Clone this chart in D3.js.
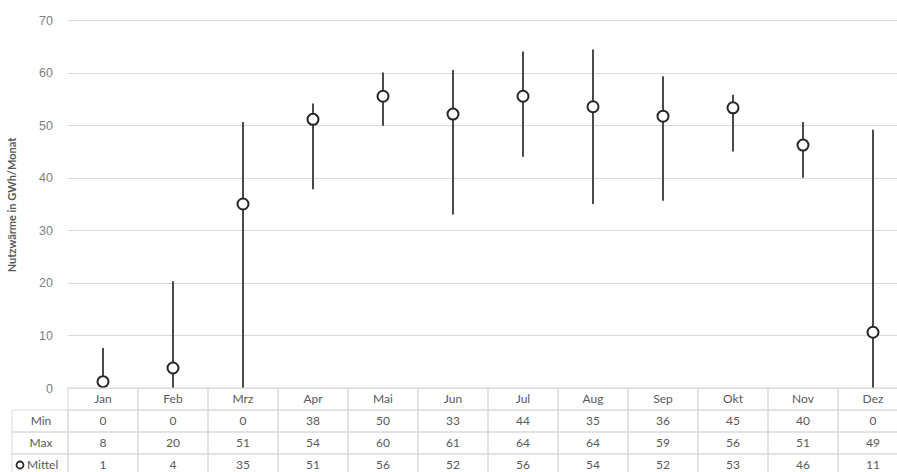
<!DOCTYPE html>
<html lang="de">
<head>
    <meta charset="UTF-8">
    <title>Nutzwärme pro Monat</title>
    <script src="https://d3js.org/d3.v7.min.js"></script>
    <style>
        body { margin: 0; background: white; }
        svg { display: block; font-family: Lato, "Open Sans", sans-serif; }
        .grid line { stroke: #d9d9d9; stroke-width: 1; }
        .grid .domain { display: none; }
        .grid text { fill: #7f7f7f; font-size: 12.5px; }
        .cell { fill: none; stroke: #d9d9d9; stroke-width: 1; }
        .tbl { fill: #595959; font-size: 12px; }
    </style>
</head>
<body>
<svg width="897" height="472"></svg>
<script>
    // data
    var months = ["Jan", "Feb", "Mrz", "Apr", "Mai", "Jun", "Jul", "Aug", "Sep", "Okt", "Nov", "Dez"];
    var minVals = [0, 0, 0, 37.8, 49.9, 33, 44, 35, 35.6, 45, 40, 0];
    var maxVals = [7.6, 20.3, 50.6, 54.1, 60, 60.5, 64, 64.4, 59.3, 55.8, 50.6, 49.1];
    var meanVals = [1.2, 3.8, 35, 51.1, 55.5, 52.1, 55.5, 53.5, 51.7, 53.3, 46.2, 10.6];
    var yTicks = [0, 10, 20, 30, 40, 50, 60, 70];
    var rowLabels = ["Min", "Max", "Mittel"];

    var svg = d3.select("svg");
    var plotLeft = 68, plotTop = 20, plotBottom = 388, colW = 70, rowH = 22;

    var x = d3.scaleBand().domain(months).range([plotLeft, plotLeft + colW * months.length]);
    var y = d3.scaleLinear().domain([0, 70]).range([plotBottom, plotTop]);

    // gridlines + y labels
    svg.append("g")
        .attr("class", "grid")
        .attr("transform", "translate(" + plotLeft + ",0)")
        .call(d3.axisLeft(y).tickValues(yTicks).tickSize(-(897 - plotLeft)).tickPadding(15))
        .selectAll(".tick line").attr("shape-rendering", "crispEdges");

    svg.append("text")
        .attr("transform", "translate(16,205) rotate(-90)")
        .attr("text-anchor", "middle")
        .attr("font-size", "11px")
        .attr("font-weight", "bold")
        .attr("fill", "#595959")
        .text("Nutzwärme in GWh/Monat");

    // min-max lines
    var cx = function(d, i) { return x(months[i]) + x.bandwidth() / 2; };
    svg.selectAll(".range")
        .data(months)
        .enter().append("line")
        .attr("class", "range")
        .attr("x1", cx).attr("x2", cx)
        .attr("y1", function(d, i) { return y(minVals[i]); })
        .attr("y2", function(d, i) { return y(maxVals[i]); })
        .attr("stroke", "#4a4a4a")
        .attr("stroke-width", 2);

    // mean markers
    svg.selectAll(".mean")
        .data(meanVals)
        .enter().append("circle")
        .attr("class", "mean")
        .attr("cx", cx)
        .attr("cy", function(d) { return y(d); })
        .attr("r", 5.5)
        .attr("fill", "white")
        .attr("stroke", "#262626")
        .attr("stroke-width", 2);

    // data table
    var table = svg.append("g");
    var rows = [minVals, maxVals, meanVals];

    months.forEach(function(m) {
        table.append("rect").attr("class", "cell")
            .attr("x", x(m)).attr("y", plotBottom)
            .attr("width", colW).attr("height", rowH);
        table.append("text").attr("class", "tbl")
            .attr("x", x(m) + colW / 2).attr("y", plotBottom + rowH / 2 + 4)
            .attr("text-anchor", "middle")
            .text(m);
    });

    rows.forEach(function(vals, r) {
        var ry = plotBottom + rowH * (r + 1);
        table.append("rect").attr("class", "cell")
            .attr("x", 12).attr("y", ry)
            .attr("width", plotLeft - 12).attr("height", rowH);
        months.forEach(function(m, i) {
            table.append("rect").attr("class", "cell")
                .attr("x", x(m)).attr("y", ry)
                .attr("width", colW).attr("height", rowH);
            table.append("text").attr("class", "tbl")
                .attr("x", x(m) + colW / 2).attr("y", ry + rowH / 2 + 3.5)
                .attr("text-anchor", "middle")
                .text(Math.round(vals[i]));
        });
        if (r < 2) {
            table.append("text").attr("class", "tbl")
                .attr("x", 41).attr("y", ry + rowH / 2 + 3.5)
                .attr("text-anchor", "middle")
                .text(rowLabels[r]);
        } else {
            table.append("circle")
                .attr("cx", 20).attr("cy", ry + rowH / 2)
                .attr("r", 3.5)
                .attr("fill", "white")
                .attr("stroke", "#262626")
                .attr("stroke-width", 1.8);
            table.append("text").attr("class", "tbl")
                .attr("x", 27).attr("y", ry + rowH / 2 + 3.5)
                .text(rowLabels[r]);
        }
    });
</script>
</body>
</html>
